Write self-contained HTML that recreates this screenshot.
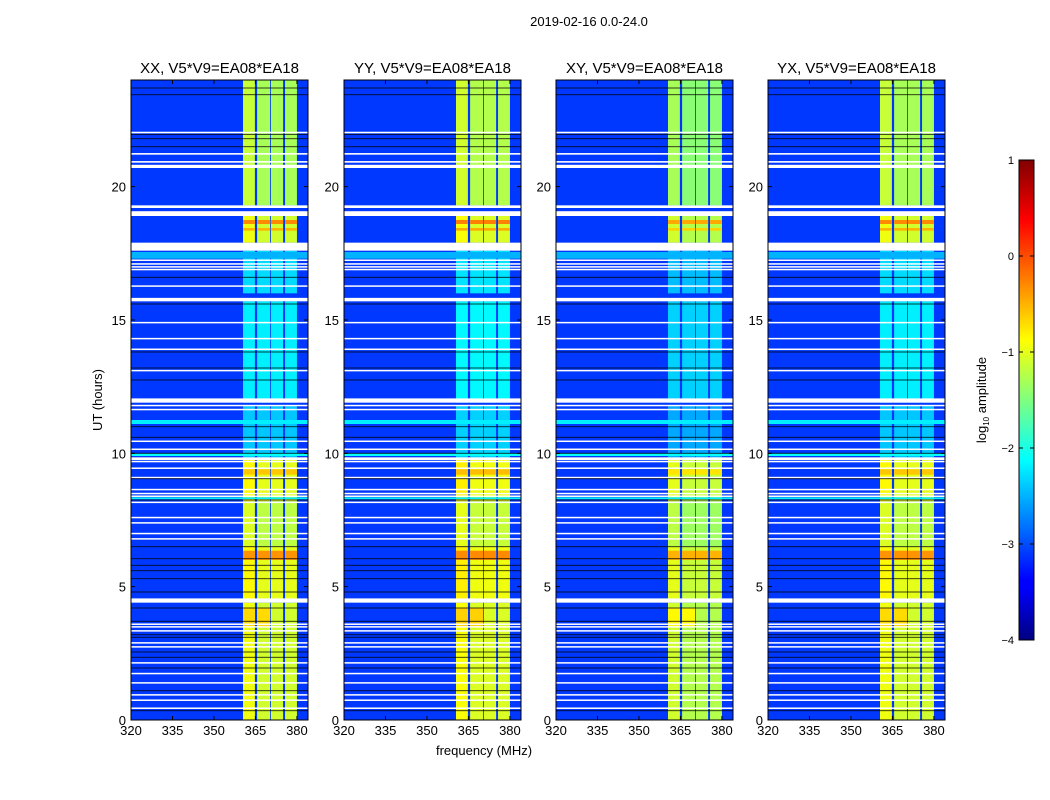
<!DOCTYPE html>
<html><head><meta charset="utf-8">
<style>
html,body{margin:0;padding:0;background:#fff;}
svg{display:block;font-family:"Liberation Sans",sans-serif;}
</style></head>
<body>
<svg id="fig" width="1050" height="800" viewBox="0 0 1050 800" xmlns="http://www.w3.org/2000/svg">
<rect width="1050" height="800" fill="#fff"/>
<text x="589" y="26" font-size="13" text-anchor="middle">2019-02-16 0.0-24.0</text>
<text transform="translate(102,400) rotate(-90)" font-size="13" text-anchor="middle">UT (hours)</text>
<text x="484" y="755" font-size="13" text-anchor="middle">frequency (MHz)</text>
<g id="panels"></g>
<defs>
<linearGradient id="jet" x1="0" y1="1" x2="0" y2="0">
<stop offset="0" stop-color="#000080"/><stop offset="0.11" stop-color="#0000ff"/>
<stop offset="0.125" stop-color="#0000ff"/><stop offset="0.375" stop-color="#00ffff"/>
<stop offset="0.625" stop-color="#ffff00"/><stop offset="0.875" stop-color="#ff0000"/>
<stop offset="1" stop-color="#800000"/>
</linearGradient>
</defs>
<g>
<rect x="1019" y="160" width="15" height="480" fill="url(#jet)" stroke="#000" stroke-width="1"/>
<g id="cbticks"></g>
<text transform="translate(986,400) rotate(-90)" font-size="13" text-anchor="middle">log<tspan font-size="8" dy="3">10</tspan><tspan dy="-3"> amplitude</tspan></text>
</g>
</svg>
<script>
// ---- data ----
const panelTitles = ["XX, V5*V9=EA08*EA18","YY, V5*V9=EA08*EA18","XY, V5*V9=EA08*EA18","YX, V5*V9=EA08*EA18"];
const xTicks = [320,335,350,365,380];
const yTicks = [0,5,10,15,20];
const cbTicks = [1,0,-1,-2,-3,-4];
const backgroundLevel = -3.1;
const bandColumns = [[360.5,364.8],[365.6,370.3],[370.6,375.0],[375.7,380.0]];
// [startHour, endHour, level]
const bandSegments = [[19.3,24,-1.3],[17.9,19.0,-1.1],[16.0,17.6,-2.3],[11.9,15.7,-2.2],[9.8,11.8,-2.4],[8.2,9.8,-1.0],[6.5,8.2,-1.2],[6.0,6.5,-1.0],[4.5,6.0,-1.0],[0,4.4,-1.1]];
const hotStripes = [[18.6,18.75,-0.3],[18.35,18.45,-0.5],[9.2,9.4,-0.6],[6.0,6.35,-0.35],[3.5,4.2,-0.7]];
const panelOffset = [0,0.05,-0.15,0];
const cyanRows = [[17.3,17.55,-2.5],[11.1,11.25,-2.2],[9.9,10.0,-2.1],[8.28,8.35,-2.2]];
const whiteRows = [[22.0,22.06],[21.2,21.26],[20.9,20.96],[20.7,20.82],[19.2,19.3],[18.9,19.08],[17.6,17.9],[17.22,17.27],[17.08,17.13],[16.98,17.02],[16.88,16.92],[16.25,16.3],[15.7,15.83],[14.88,14.93],[14.28,14.33],[13.88,13.93],[13.08,13.13],[11.9,12.06],[11.78,11.82],[11.63,11.67],[10.43,10.48],[10.13,10.18],[9.75,9.85],[9.68,9.72],[9.43,9.47],[9.08,9.12],[8.63,8.67],[8.48,8.52],[8.38,8.42],[8.15,8.19],[7.58,7.62],[7.38,7.42],[6.98,7.02],[6.78,6.82],[4.4,4.56],[3.58,3.62],[3.48,3.52],[3.33,3.37],[2.88,2.92],[2.73,2.77],[2.13,2.17],[1.73,1.77],[1.38,1.42],[0.93,0.97],[0.73,0.77],[0.43,0.47]];
const blackRows = [23.7,23.45,21.96,21.8,21.5,16.6,15.6,13.8,13.2,12.75,11.0,10.6,10.0,9.05,8.25,6.5,6.05,5.8,5.6,5.3,4.8,4.2,3.7,3.2,3.1,2.55,2.35,1.95,1.1,0.35];

// ---- layout ----
const panelX = [131,344,556,768];
const PW = 177, PT = 80, PB = 720;
const FMIN = 320, FMAX = 384, HMIN = 0, HMAX = 24;
const NS = "http://www.w3.org/2000/svg";
function xs(f, p){ return panelX[p] + (f-FMIN)/(FMAX-FMIN)*PW; }
function ys(h){ return PB - (h-HMIN)/(HMAX-HMIN)*(PB-PT); }
function jet(v){
  const t = Math.max(0,Math.min(1,(v+4)/5));
  const c = x => Math.round(255*Math.max(0,Math.min(1,x)));
  return `rgb(${c(1.5-Math.abs(4*t-3))},${c(1.5-Math.abs(4*t-2))},${c(1.5-Math.abs(4*t-1))})`;
}
function mk(tag, attrs, parent){
  const e = document.createElementNS(NS, tag);
  for (const k in attrs) e.setAttribute(k, attrs[k]);
  parent.appendChild(e); return e;
}
const root = document.getElementById('panels');
for (let p=0; p<4; p++){
  const g = mk('g', {}, root);
  
  
  const x0 = panelX[p];
  const bg = mk('rect', {x:x0, y:PT, width:PW, height:PB-PT, fill:jet(backgroundLevel)}, g);
  
  
  bandSegments.forEach(s=>{
    bandColumns.forEach((c,ci)=>{
      const lv = s[2] + panelOffset[p] + (ci===0 && s[2]>-1.5 ? 0.15 : 0);
      const r = mk('rect', {x:xs(c[0],p), y:ys(s[1]), width:xs(c[1],p)-xs(c[0],p), height:ys(s[0])-ys(s[1]), fill:jet(lv)}, g);
      
      
    });
  });
  hotStripes.forEach(s=>{
    bandColumns.forEach((c,ci)=>{
      if (s[0]===3.5 && ci>1) return;
      const r = mk('rect', {x:xs(c[0],p), y:ys(s[1]), width:xs(c[1],p)-xs(c[0],p), height:ys(s[0])-ys(s[1]), fill:jet(s[2]+panelOffset[p])}, g);
      
      
    });
  });
  cyanRows.forEach(s=>{
    const r = mk('rect', {x:x0, y:ys(s[1]), width:PW, height:ys(s[0])-ys(s[1]), fill:jet(s[2])}, g);
    
    
  });
  whiteRows.forEach(s=>{
    const r = mk('rect', {x:x0, y:ys(s[1]), width:PW, height:Math.max(1.5,ys(s[0])-ys(s[1])), fill:'#fff'}, g);
    
    
  });
  blackRows.forEach(h=>{
    const r = mk('rect', {x:x0, y:ys(h)-0.5, width:PW, height:1, fill:'#000', 'fill-opacity':0.75}, g);
    
    
  });
  const fr = mk('rect', {x:x0, y:PT, width:PW, height:PB-PT, fill:'none', stroke:'#000', 'stroke-width':1}, g);
  
  
  const t = mk('text', {x:x0+PW/2, y:PT-7, 'font-size':15, 'text-anchor':'middle'}, g);
  t.textContent = panelTitles[p];
  
  
  xTicks.forEach(f=>{
    const x = xs(f,p);
    const l = mk('path', {d:`M${x},${PB}v-4M${x},${PT}v4`, stroke:'#000', 'stroke-width':1}, g);
    
    
    const tx = mk('text', {x:x, y:PB+15, 'font-size':13, 'text-anchor':'middle'}, g);
    tx.textContent = f;
    
    
  });
  yTicks.forEach(h=>{
    const y = ys(h);
    const l = mk('path', {d:`M${x0},${y}h4M${x0+PW},${y}h-4`, stroke:'#000', 'stroke-width':1}, g);
    
    
    const ty = mk('text', {x:x0-5, y:y+5, 'font-size':13, 'text-anchor':'end'}, g);
    ty.textContent = h;
    
    
  });
}
const cbg = document.getElementById('cbticks');
cbTicks.forEach(v=>{
  const y = 640 - (v+4)/5*480;
  const l = mk('path', {d:`M1019,${y}h4M1034,${y}h-4`, stroke:'#000', 'stroke-width':1}, cbg);
  
  
  const t = mk('text', {x:1014, y:y+4, 'font-size':11, 'text-anchor':'end'}, cbg);
  t.textContent = v<0 ? '\u2212'+(-v) : String(v);
  
  
});
</script>
</body></html>
